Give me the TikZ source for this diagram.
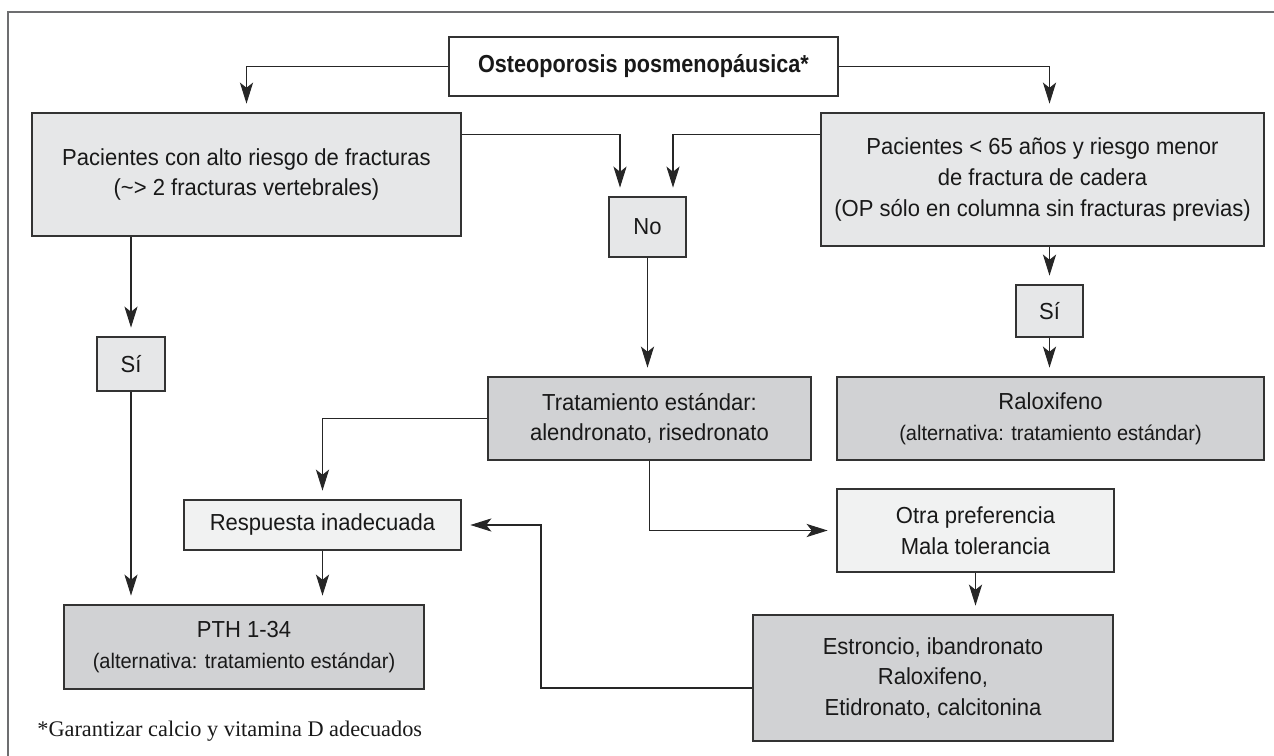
\documentclass[tikz,border=0pt]{standalone}
\usepackage{fontspec}
\setmainfont[FakeStretch=0.95]{Liberation Sans}
\newfontfamily\titlefont[FakeStretch=0.88]{Liberation Sans}
\newfontfamily\notefont{Liberation Serif}
\usetikzlibrary{arrows.meta}
\definecolor{grisclaro}{HTML}{E6E7E8}
\definecolor{grisoscuro}{HTML}{D1D2D4}
\definecolor{grisblanco}{HTML}{F1F2F2}
\definecolor{marco}{HTML}{6D6E70}
\newcommand{\alternativa}[1]{{\fontsize{12}{14}\selectfont #1}}

\begin{document}
\begin{tikzpicture}[x=0.02cm, y=-0.02cm, >={Stealth[length=12pt,width=7.5pt,inset=3pt]},
	caja/.style={draw=black!80, line width=0.7pt, align=center, inner sep=0pt, text=black!90, font=\fontsize{13.2}{17.5}\selectfont},
	flecha/.style={->, line width=0.6pt, black!85, shorten >=5pt}]
	\useasboundingbox (0,0) rectangle (1274,756);
	\draw[marco, line width=1pt] (8,756) -- (8,12) -- (1274,12);
	% cajas
	\node[caja, fill=white, minimum width=7.78cm, minimum height=1.18cm, font=\titlefont\bfseries\fontsize{14}{17}\selectfont] (osteo) at (643.5,66.5) {Osteoporosis posmenopáusica*};
	\node[caja, fill=grisclaro, minimum width=8.58cm, minimum height=2.46cm] (alto) at (246.5,174.5) {Pacientes con alto riesgo de fracturas\\(\textasciitilde> 2 fracturas vertebrales)};
	\node[caja, fill=grisclaro, minimum width=8.86cm, minimum height=2.66cm] (menor) at (1042.5,179.5) {Pacientes < 65 años y riesgo menor\\de fractura de cadera\\(OP sólo en columna sin fracturas previas)};
	\node[caja, fill=grisclaro, minimum width=1.54cm, minimum height=1.2cm] (no) at (647.5,227) {No};
	\node[caja, fill=grisclaro, minimum width=1.36cm, minimum height=1.08cm] (si1) at (131,364) {Sí};
	\node[caja, fill=grisclaro, minimum width=1.34cm, minimum height=1.04cm] (si2) at (1049.5,311) {Sí};
	\node[caja, fill=grisoscuro, minimum width=6.46cm, minimum height=1.66cm] (trat) at (649.5,418.5) {Tratamiento estándar:\\alendronato, risedronato};
	\node[caja, fill=grisoscuro, minimum width=8.54cm, minimum height=1.66cm] (ralox) at (1050.5,418.5) {Raloxifeno\\\alternativa{(alternativa: tratamiento estándar)}};
	\node[caja, fill=grisblanco, minimum width=5.54cm, minimum height=1cm] (resp) at (322.5,525) {Respuesta inadecuada};
	\node[caja, fill=grisblanco, minimum width=5.54cm, minimum height=1.66cm] (otra) at (975.5,530.5) {Otra preferencia\\Mala tolerancia};
	\node[caja, fill=grisoscuro, minimum width=7.2cm, minimum height=1.68cm] (pth) at (244,647) {PTH 1-34\\\alternativa{(alternativa: tratamiento estándar)}};
	\node[caja, fill=grisoscuro, minimum width=7.2cm, minimum height=2.52cm] (estr) at (933,678) {Estroncio, ibandronato\\Raloxifeno,\\Etidronato, calcitonina};
	\node[anchor=base west, inner sep=0pt, text=black!90, font=\notefont\fontsize{12.7}{15}\selectfont] (nota) at (37,736) {*Garantizar calcio y vitamina D adecuados};
	% flechas
	\draw[flecha] (osteo.west) -| (alto.north);
	\draw[flecha] (osteo.east) -| (si2.north |- menor.north);
	\draw[flecha] ([yshift=-0.44cm]alto.north east) -| ([xshift=-0.55cm]no.north);
	\draw[flecha] ([yshift=-0.44cm]menor.north west) -| ([xshift=0.51cm]no.north);
	\draw[flecha] (no.south) -- (no.south |- trat.north);
	\draw[flecha] (si1.north |- alto.south) -- (si1.north);
	\draw[flecha] (si1.south) -- (si1.south |- pth.north);
	\draw[flecha] (si2.north |- menor.south) -- (si2.north);
	\draw[flecha] (si2.south) -- (si2.south |- ralox.north);
	\draw[flecha] (trat.west) -| (resp.north);
	\draw[flecha] (trat.south) |- (otra.west);
	\draw[flecha] (resp.south) -- (resp.south |- pth.north);
	\draw[flecha] (otra.south) -- (otra.south |- estr.north);
	\coordinate (retorno) at (541,600);
	\draw[flecha] ([yshift=-0.2cm]estr.west) -| (retorno) |- (resp.east);
\end{tikzpicture}
\end{document}
